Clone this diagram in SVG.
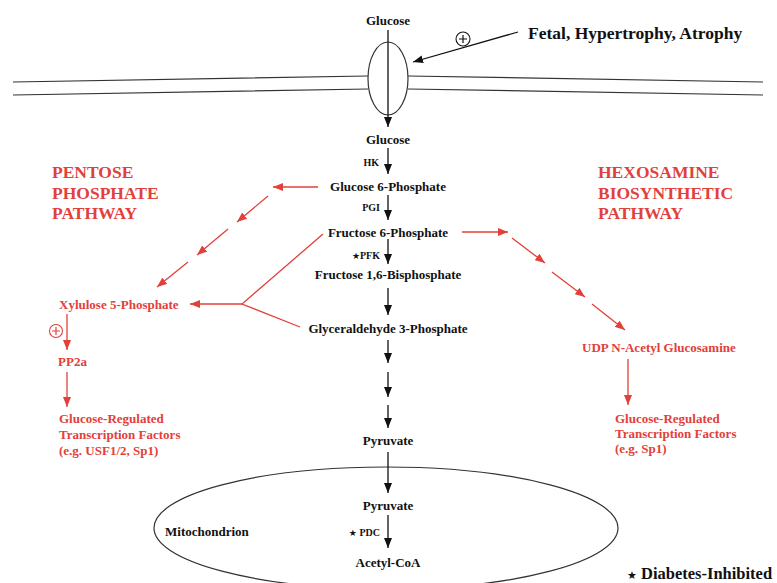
<svg xmlns="http://www.w3.org/2000/svg" width="777" height="583" viewBox="0 0 777 583">
<style>
text{font-family:"Liberation Serif","DejaVu Sans",serif;font-weight:bold;}
.n{font-size:13px;fill:#111;text-anchor:middle;}
.s{font-size:10px;fill:#111;text-anchor:end;}
.r{font-size:13px;fill:#e2403a;}
.t{font-size:17.5px;fill:#e2403a;}
.big{font-size:17.5px;fill:#111;}
.k{stroke:#111;stroke-width:1.3;fill:none;}
.kr{stroke:#e2403a;stroke-width:1.3;fill:none;}
.mem{stroke:#333;stroke-width:1.2;fill:none;}
</style>
<defs>
<marker id="ab" viewBox="0 0 10 8" refX="10" refY="4" markerWidth="10" markerHeight="8" markerUnits="userSpaceOnUse" orient="auto"><path d="M0,0 L10,4 L0,8 z" fill="#111"/></marker>
<marker id="ar" viewBox="0 0 10 8" refX="10" refY="4" markerWidth="10" markerHeight="8" markerUnits="userSpaceOnUse" orient="auto"><path d="M0,0 L10,4 L0,8 z" fill="#e2403a"/></marker>
</defs>
<rect width="777" height="583" fill="#fff"/>

<g id="membrane">
<path class="mem" d="M13,82 L368,76 M13,95 L368,89 M408,76 L763,82 M408,89 L763,95"/>
<ellipse class="mem" cx="388" cy="78.5" rx="20" ry="36.5"/>
</g>
<g id="mitochondrion">
<ellipse class="mem" cx="386" cy="528" rx="232" ry="61"/>
<text x="165" y="535.5" style="font-size:13px;fill:#111">Mitochondrion</text>
</g>

<g id="connectors">
<line class="k" x1="388" y1="30" x2="388" y2="127" marker-end="url(#ab)"/>
<line class="k" x1="518" y1="32" x2="413" y2="62" marker-end="url(#ab)"/>
<line class="k" x1="388" y1="148" x2="388" y2="174" marker-end="url(#ab)"/>
<line class="k" x1="388" y1="195" x2="388" y2="220" marker-end="url(#ab)"/>
<line class="k" x1="388" y1="239" x2="388" y2="264" marker-end="url(#ab)"/>
<line class="k" x1="388" y1="288" x2="388" y2="315" marker-end="url(#ab)"/>
<line class="k" x1="388" y1="340" x2="388" y2="363" marker-end="url(#ab)"/>
<line class="k" x1="388" y1="372" x2="388" y2="397" marker-end="url(#ab)"/>
<line class="k" x1="388" y1="405" x2="388" y2="428" marker-end="url(#ab)"/>
<line class="k" x1="388" y1="452" x2="388" y2="493" marker-end="url(#ab)"/>
<line class="k" x1="388" y1="515" x2="388" y2="548" marker-end="url(#ab)"/>

<line class="kr" x1="318" y1="187" x2="273" y2="187" marker-end="url(#ar)"/>
<line class="kr" x1="268" y1="196" x2="237" y2="222" marker-end="url(#ar)"/>
<line class="kr" x1="228" y1="229" x2="197" y2="255" marker-end="url(#ar)"/>
<line class="kr" x1="188" y1="262" x2="157" y2="287" marker-end="url(#ar)"/>
<path class="kr" d="M323,234 L242,304 L300,327"/>
<line class="kr" x1="242" y1="304" x2="190" y2="304" marker-end="url(#ar)"/>
<line class="kr" x1="67" y1="314" x2="67" y2="350" marker-end="url(#ar)"/>
<line class="kr" x1="67" y1="372" x2="67" y2="407" marker-end="url(#ar)"/>

<line class="kr" x1="462" y1="232" x2="508" y2="232" marker-end="url(#ar)"/>
<line class="kr" x1="512" y1="238" x2="545" y2="263" marker-end="url(#ar)"/>
<line class="kr" x1="552" y1="272" x2="585" y2="297" marker-end="url(#ar)"/>
<line class="kr" x1="592" y1="304" x2="625" y2="330" marker-end="url(#ar)"/>
<line class="kr" x1="628" y1="359" x2="628" y2="405" marker-end="url(#ar)"/>
</g>

<g id="plus-fetal">
<circle cx="463" cy="39" r="7" fill="none" stroke="#111" stroke-width="1.1"/>
<path d="M459,39 H467 M463,35 V43" stroke="#111" stroke-width="1.2"/>
</g>
<g id="plus-xylulose">
<circle cx="56" cy="331" r="6.5" fill="none" stroke="#e2403a" stroke-width="1.1"/>
<path d="M52,331 H60 M56,327 V335" stroke="#e2403a" stroke-width="1.2"/>
</g>

<g id="fetal"><text class="big" x="528" y="39">Fetal, Hypertrophy, Atrophy</text></g>
<g id="glucose-out"><text class="n" x="388" y="24.5">Glucose</text></g>
<g id="glucose-in"><text class="n" x="388" y="144">Glucose</text></g>
<g id="hk"><text class="s" x="379" y="165.5">HK</text></g>
<g id="g6p"><text class="n" x="388" y="190.5">Glucose 6-Phosphate</text></g>
<g id="pgi"><text class="s" x="380" y="210.5">PGI</text></g>
<g id="f6p"><text class="n" x="388" y="236.5">Fructose 6-Phosphate</text></g>
<g id="pfk"><text class="s" x="380" y="258.5"><tspan style="font-size:9px">★</tspan>PFK</text></g>
<g id="f16bp"><text class="n" x="388" y="278.5">Fructose 1,6-Bisphosphate</text></g>
<g id="g3p"><text class="n" x="388" y="333">Glyceraldehyde 3-Phosphate</text></g>
<g id="pyruvate"><text class="n" x="388" y="444.5">Pyruvate</text></g>
<g id="pyruvate-mito"><text class="n" x="388" y="509.5">Pyruvate</text></g>
<g id="pdc"><text class="s" x="380" y="535.5"><tspan style="font-size:9px">★</tspan> PDC</text></g>
<g id="acetyl-coa"><text class="n" x="388" y="567">Acetyl-CoA</text></g>

<g id="ppp-title">
<text class="t" x="52" y="178">PENTOSE</text>
<text class="t" x="52" y="199">PHOSPHATE</text>
<text class="t" x="52" y="219">PATHWAY</text>
</g>
<g id="hbp-title">
<text class="t" x="598" y="178">HEXOSAMINE</text>
<text class="t" x="598" y="199">BIOSYNTHETIC</text>
<text class="t" x="598" y="219">PATHWAY</text>
</g>
<g id="xylulose"><text class="r" x="59" y="308.5">Xylulose 5-Phosphate</text></g>
<g id="pp2a"><text class="r" x="58" y="366">PP2a</text></g>
<g id="grtf-left">
<text class="r" x="59" y="422.5">Glucose-Regulated</text>
<text class="r" x="59" y="438.5">Transcription Factors</text>
<text class="r" x="59" y="454.5">(e.g. USF1/2, Sp1)</text>
</g>
<g id="udp-glcnac"><text class="r" x="582" y="351.5">UDP N-Acetyl Glucosamine</text></g>
<g id="grtf-right">
<text class="r" x="615" y="422.5">Glucose-Regulated</text>
<text class="r" x="615" y="437.5">Transcription Factors</text>
<text class="r" x="615" y="452.5">(e.g. Sp1)</text>
</g>
<g id="legend"><text x="627" y="579" style="font-size:16.5px;fill:#111"><tspan style="font-size:11px">★</tspan> Diabetes-Inhibited</text></g>
</svg>
